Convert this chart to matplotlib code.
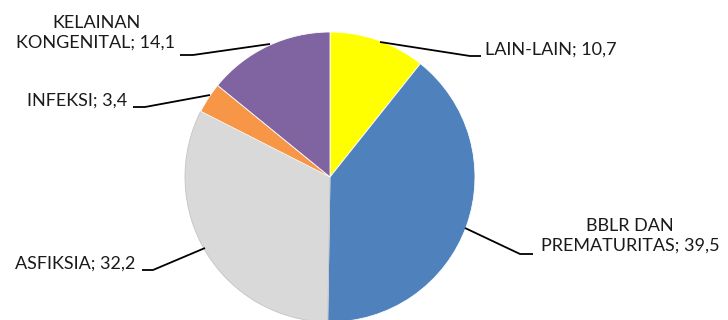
import matplotlib
matplotlib.use("Agg")
import matplotlib.pyplot as plt

# data (clockwise from 12 o'clock)
labels = ["LAIN-LAIN", "BBLR DAN\nPREMATURITAS", "ASFIKSIA", "INFEKSI", "KELAINAN\nKONGENITAL"]
values = [10.7, 39.5, 32.2, 3.4, 14.1]
colors = ["#FFFF00", "#4F81BD", "#D9D9D9", "#F79646", "#8064A2"]

W, H = 728, 320
plt.rcParams["font.family"] = ["Lato", "DejaVu Sans"]

fig = plt.figure(figsize=(W / 100, H / 100), dpi=100)
ax = fig.add_axes([0, 0, 1, 1])

cx, cy, r = 330, H - 177, 145
wedges, _ = ax.pie(values, colors=colors, startangle=90, counterclock=False,
                   center=(cx, cy), radius=r, frame=True,
                   wedgeprops=dict(edgecolor="white", linewidth=0.6))
wedges[2].set_edgecolor("#C4C4C4")  # gray slice has a faint outline
ax.set_xlim(0, W)
ax.set_ylim(0, H)
ax.set_aspect("equal")
ax.axis("off")


def py(y):
    return H - y


# leader lines in pixel coords (top-left origin) + label anchor
leaders = [
    ([(380, 42), (470, 56), (481, 56)], (485, 50), "left"),
    ([(465, 228), (520, 254), (533, 254)], (630, 236), "center"),
    ([(205, 248), (153, 270), (142, 270)], (75, 264), "center"),
    ([(210, 95), (145, 107), (133, 107)], (77, 101), "center"),
    ([(270, 44), (193, 55), (180, 55)], (96, 33), "center"),
]

for (pts, (tx, ty), ha), lab, val in zip(leaders, labels, values):
    xs = [p[0] for p in pts]
    ys = [py(p[1]) for p in pts]
    ax.plot(xs, ys, color="black", lw=1.3, solid_capstyle="butt")
    txt = f"{lab}; {val:.1f}".replace(".", ",")
    ax.text(tx, py(ty), txt, ha=ha, va="center", fontsize=13,
            color="#1a1a1a", linespacing=1.25, multialignment="center")

fig.savefig("out.png", dpi=100)
